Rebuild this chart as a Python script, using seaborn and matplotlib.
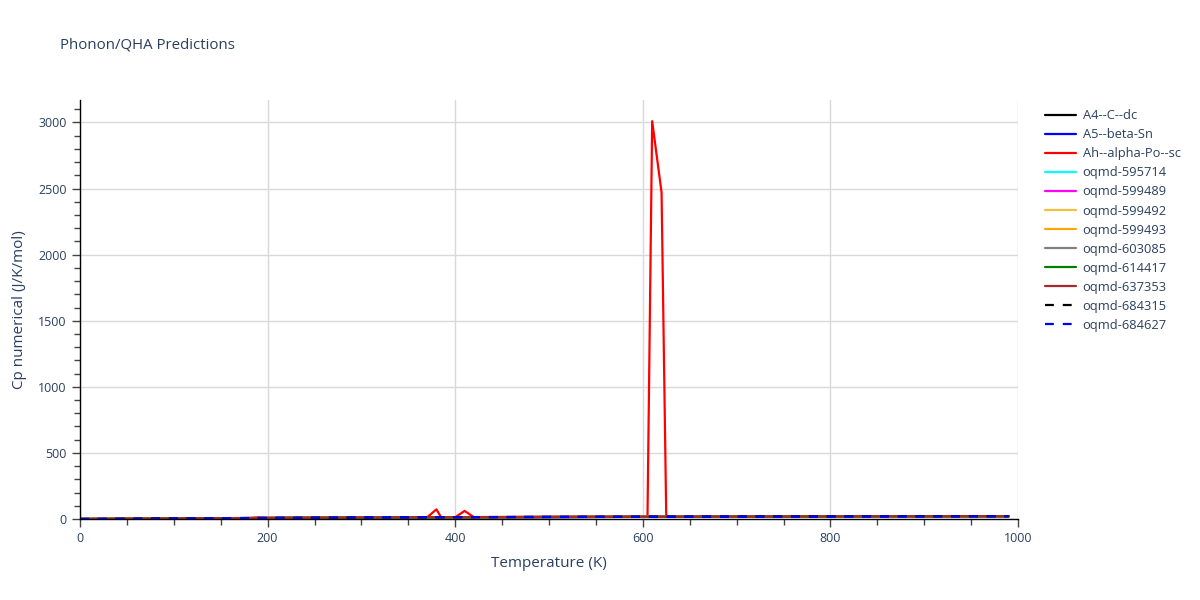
import matplotlib
matplotlib.use('Agg')
import matplotlib.pyplot as plt
import seaborn as sns
from matplotlib.ticker import MultipleLocator

# Temperature grid (K) for the smooth curves
T = [0, 50, 100, 150, 200, 250, 300, 350, 400, 450, 500, 550, 600, 650, 700, 750, 800, 850, 900, 950, 990]

# Cp values (J/K/mol)
cp_A4 = [0, 1.2, 3.0, 5.0, 7.0, 8.6, 10.1, 11.4, 12.6, 13.6, 14.5, 15.3, 16.0, 16.7, 17.3, 17.8, 18.3, 18.7, 19.1, 19.5, 19.8]
cp_A5 = [0, 1.6, 3.6, 5.6, 7.6, 9.2, 10.7, 12.0, 13.2, 14.2, 15.1, 15.9, 16.6, 17.3, 17.9, 18.4, 18.9, 19.3, 19.7, 20.1, 20.4]
cp_595714 = [0, 1.5, 3.5, 5.5, 7.4, 9.0, 10.5, 11.8, 13.0, 14.0, 14.9, 15.7, 16.4, 17.1, 17.7, 18.2, 18.7, 19.1, 19.5, 19.9, 20.2]
cp_599489 = [0, 1.7, 3.8, 5.8, 7.8, 9.4, 10.9, 12.2, 13.4, 14.4, 15.3, 16.1, 16.8, 17.5, 18.1, 18.6, 19.1, 19.5, 19.9, 20.3, 20.6]
cp_599492 = [0, 1.8, 4.0, 6.1, 8.1, 9.8, 11.3, 12.6, 13.8, 14.8, 15.7, 16.5, 17.2, 17.9, 18.5, 19.0, 19.5, 19.9, 20.3, 20.7, 21.0]
cp_599493 = [0, 1.8, 4.0, 6.0, 8.0, 9.7, 11.2, 12.5, 13.7, 14.7, 15.6, 16.4, 17.1, 17.8, 18.4, 18.9, 19.4, 19.8, 20.2, 20.6, 20.9]
cp_603085 = [0, 1.4, 3.3, 5.3, 7.2, 8.8, 10.3, 11.6, 12.8, 13.8, 14.7, 15.5, 16.2, 16.9, 17.5, 18.0, 18.5, 18.9, 19.3, 19.7, 20.0]
cp_614417 = [0, 1.6, 3.7, 5.7, 7.7, 9.3, 10.8, 12.1, 13.3, 14.3, 15.2, 16.0, 16.7, 17.4, 18.0, 18.5, 19.0, 19.4, 19.8, 20.2, 20.5]
cp_637353 = [0, 2.0, 4.3, 6.5, 8.5, 10.2, 11.7, 13.0, 14.2, 15.2, 16.1, 16.9, 17.6, 18.3, 18.9, 19.4, 19.9, 20.3, 20.7, 21.1, 21.4]
cp_684315 = [0, 1.9, 4.1, 6.2, 8.2, 9.9, 11.4, 12.7, 13.9, 14.9, 15.8, 16.6, 17.3, 18.0, 18.6, 19.1, 19.6, 20.0, 20.4, 20.8, 21.1]
cp_684627 = [0, 1.7, 3.9, 5.9, 7.9, 9.5, 11.0, 12.3, 13.5, 14.5, 15.4, 16.2, 16.9, 17.6, 18.2, 18.7, 19.2, 19.6, 20.0, 20.4, 20.7]

# Ah--alpha-Po--sc has its own grid because of the spikes
T_Ah = [0, 50, 100, 150, 180, 190, 200, 210, 220, 230, 250, 300, 350, 370, 380, 385, 400, 410, 420,
        450, 500, 550, 600, 605, 610, 620, 625, 650, 700, 750, 800, 850, 900, 950, 990]
cp_Ah = [0, 1.5, 3.5, 5.5, 6.8, 12.0, 7.4, 8.0, 11.5, 8.6, 9.2, 10.6, 11.9, 12.4, 73.0, 12.8, 13.1, 61.0, 13.5,
         14.1, 15.0, 15.8, 16.5, 16.6, 3010.0, 2470.0, 17.0, 17.2, 17.8, 18.3, 18.8, 19.2, 19.6, 20.0, 20.3]

names = ['A4--C--dc', 'A5--beta-Sn', 'Ah--alpha-Po--sc', 'oqmd-595714', 'oqmd-599489',
         'oqmd-599492', 'oqmd-599493', 'oqmd-603085', 'oqmd-614417', 'oqmd-637353',
         'oqmd-684315', 'oqmd-684627']
xs = [T, T, T_Ah] + [T] * 9
ys = [cp_A4, cp_A5, cp_Ah, cp_595714, cp_599489, cp_599492, cp_599493,
      cp_603085, cp_614417, cp_637353, cp_684315, cp_684627]
colors = ['black', 'blue', 'red', 'cyan', 'magenta', '#f0c040', 'orange',
          'gray', 'green', 'brown', 'black', 'blue']
dashed = [False] * 10 + [True, True]

sns.set_style('white')
plt.rcParams['font.family'] = ['Open Sans', 'DejaVu Sans']
txt = '#2a3f5f'

fig = plt.figure(figsize=(12, 6), dpi=100)
ax = fig.add_axes([80 / 1200, 81 / 600, 938 / 1200, 419 / 600])

for name, x, y, c, d in zip(names, xs, ys, colors, dashed):
    sns.lineplot(x=x, y=y, ax=ax, color=c, linewidth=1.6, label=name)
    if d:
        ax.lines[-1].set_dashes((4, 4))

ax.set_xlim(0, 1000)
ax.set_ylim(0, 3170)
ax.xaxis.set_major_locator(MultipleLocator(200))
ax.xaxis.set_minor_locator(MultipleLocator(50))
ax.yaxis.set_major_locator(MultipleLocator(500))
ax.yaxis.set_minor_locator(MultipleLocator(100))
ax.grid(True, which='major', color='#d9d9d9', linewidth=1)
ax.set_axisbelow(True)
ax.tick_params(which='major', direction='out', length=6, color='#444444', labelsize=9, labelcolor=txt, width=1)
ax.tick_params(which='minor', direction='out', length=4, color='#444444', width=1)
ax.tick_params(axis='x', bottom=True, which='both')
ax.tick_params(axis='y', left=True, which='both')
for s in ['top', 'right']:
    ax.spines[s].set_visible(False)
for s in ['left', 'bottom']:
    ax.spines[s].set_color('black')
    ax.spines[s].set_linewidth(1)

ax.set_xlabel('Temperature (K)', fontsize=11, color=txt, labelpad=8)
ax.set_ylabel('Cp numerical (J/K/mol)', fontsize=11, color=txt, labelpad=8)
fig.text(60 / 1200, 1 - 45 / 600, 'Phonon/QHA Predictions', fontsize=10.8, color=txt, va='center')

handles, labels = ax.get_legend_handles_labels()
ax.legend_.remove()
fig.legend(handles, labels, loc='upper left', bbox_to_anchor=(1040 / 1200, 1 - 104 / 600),
           frameon=False, fontsize=9.3, labelcolor=txt, handlelength=2.4, handletextpad=0.5,
           labelspacing=0.47, borderaxespad=0)

fig.savefig('out.png', dpi=100)
